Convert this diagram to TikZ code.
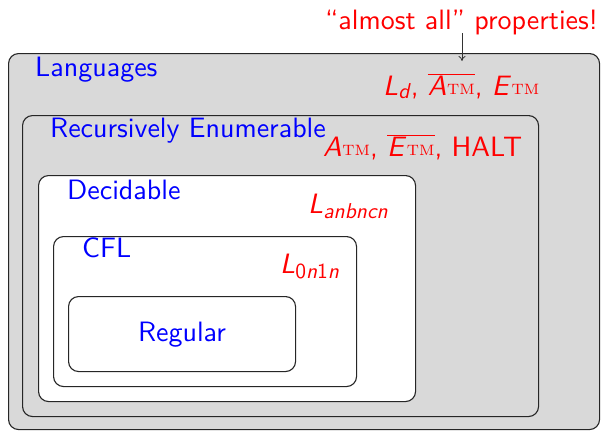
\documentclass[tikz,border=0pt]{standalone}
\usepackage{fontspec}
\setsansfont{lmsans10-regular.otf}[ItalicFont=lmsans10-oblique.otf, BoldFont=lmsans10-bold.otf]
\newfontfamily\tmfont{lmroman7-regular.otf}
\usetikzlibrary{arrows.meta}

% sans-serif italic letters and small roman subscripts for language names
\newcommand{\sfit}[1]{\textsf{\itshape #1}}
\newcommand{\tmsub}{\kern0.5pt\raisebox{1pt}{\fontsize{15}{15}\selectfont\tmfont TM}}
\newcommand{\lowsub}[1]{\raisebox{-5pt}{\fontsize{21.5}{21.5}\selectfont\sffamily #1}}
\newcommand{\ovl}[1]{\ensuremath{\overline{\hbox{#1}}}}

\begin{document}
\begin{tikzpicture}[x=1pt,y=-1pt,
  classbox/.style={draw=black!85, line width=1.1pt, rounded corners=10pt,
    anchor=north west, inner sep=0pt},
  graybox/.style={classbox, fill=black!15},
  whitebox/.style={classbox, fill=white},
  classname/.style={anchor=base west, inner sep=0pt, text=blue,
    font=\sffamily\fontsize{28}{30}\selectfont},
  member/.style={anchor=base west, inner sep=0pt, text=red,
    font=\sffamily\fontsize{28}{30}\selectfont},
  note/.style={anchor=base west, inner sep=0pt, text=red,
    font=\sffamily\fontsize{28}{30}\selectfont},
  pointer/.style={draw=black!80, line width=0.8pt, -{To[length=5pt,width=7pt]}}
]
\useasboundingbox (0,0) rectangle (606,431);

% nested classes of languages
\node[graybox, minimum width=591pt, minimum height=376pt] (lang) at (8,53) {};
\node[graybox, minimum width=516pt, minimum height=301pt] (re) at (22,115) {};
\node[whitebox, minimum width=377pt, minimum height=226pt] (dec) at (38,175) {};
\node[whitebox, minimum width=303pt, minimum height=150pt] (cfl) at (53,236) {};
\node[whitebox, minimum width=227pt, minimum height=75pt] (reg) at (68,296) {};

% class names
\node[classname] (langname) at (35,76) {Languages};
\node[classname] (rename) at (50,137) {Recursively Enumerable};
\node[classname] (decname) at (67,199) {Decidable};
\node[classname] (cflname) at (82,257) {CFL};
\node[classname, anchor=base] (regname) at (182,341) {Regular};

% example languages in each class
\node[member] (ex1) at (383,95)
  {\sfit{L}\raisebox{-3pt}{\fontsize{21.5}{21.5}\selectfont\sfit{d}}, \ovl{\sfit{A}\tmsub}, \sfit{E}\tmsub};
\node[member] (ex2) at (323,156)
  {\sfit{A}\tmsub, \ovl{\sfit{E}\tmsub}, HALT};
\node[member] (ex3) at (308,213) {\sfit{L}\lowsub{\itshape anbncn}};
\node[member] (ex4) at (280,273) {\sfit{L}\lowsub{0\textit{n}1\textit{n}}};

% remark with pointer into the outer class
\node[note] (remark) at (325,30) {“almost all” properties!};
\coordinate (tip) at (462,61);
\draw[pointer] (remark.base -| tip) ++(0,3) -- (tip);
\end{tikzpicture}
\end{document}
